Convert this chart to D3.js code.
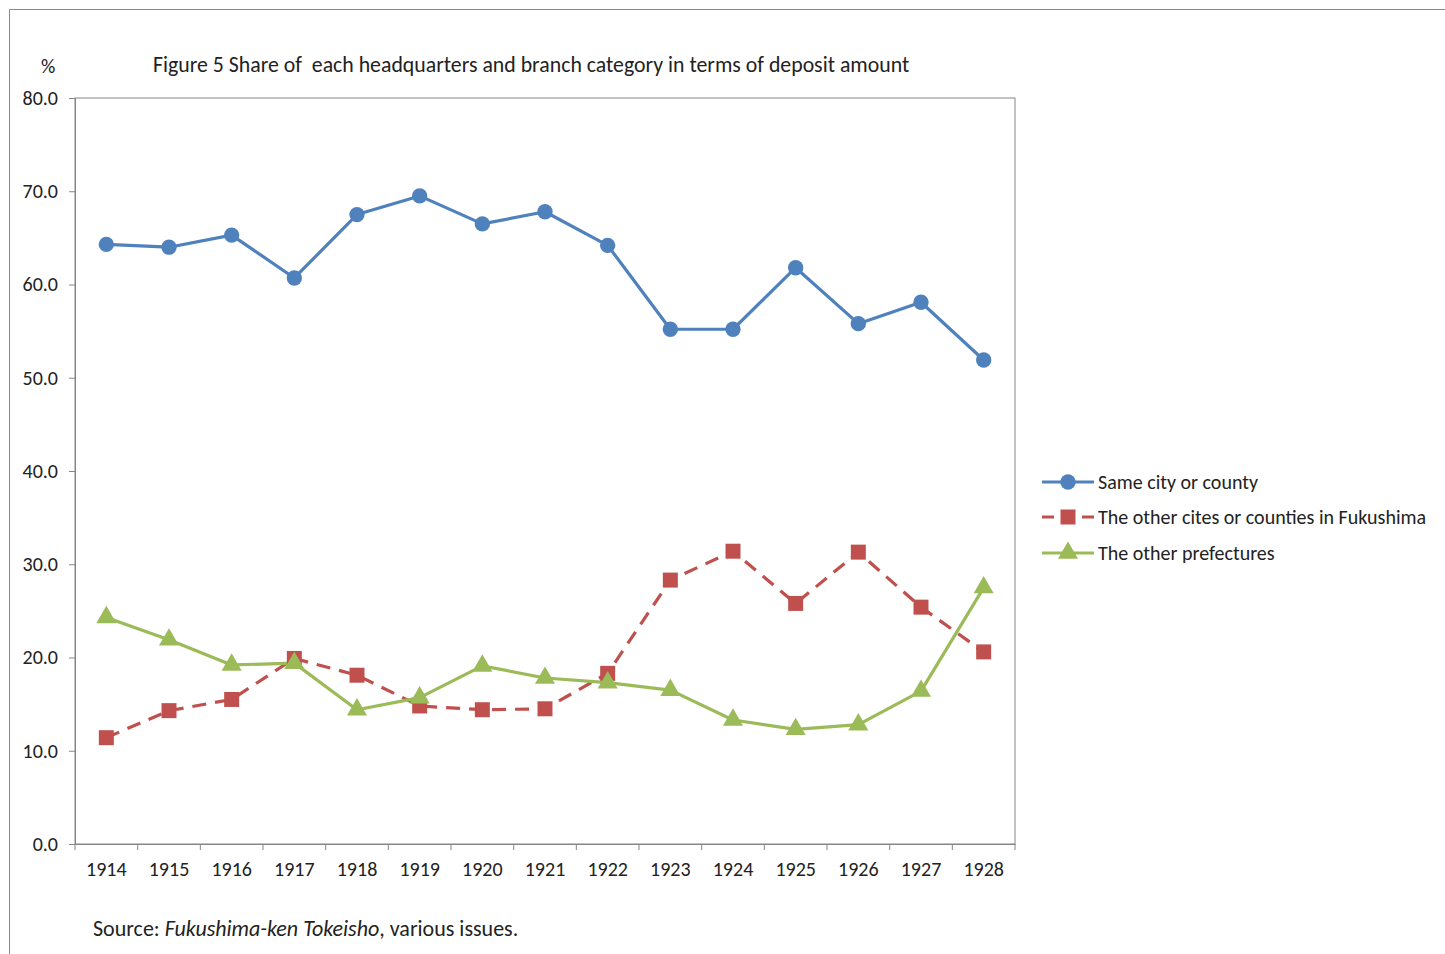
<!DOCTYPE html>
<html>
<head>
<meta charset="utf-8">
<script src="https://cdn.jsdelivr.net/npm/d3@7"></script>
<style>
  body { margin: 0; background: #fff; }
  svg text { font-family: Calibri, Carlito, "Open Sans", sans-serif; fill: #222; }
</style>
</head>
<body>
<svg id="chart" width="1445" height="954"></svg>
<script>
const years = ["1914","1915","1916","1917","1918","1919","1920","1921","1922","1923","1924","1925","1926","1927","1928"];
const sameCity = [64.3, 64.0, 65.3, 60.7, 67.5, 69.5, 66.5, 67.8, 64.2, 55.2, 55.2, 61.8, 55.8, 58.1, 51.9];
const otherCities = [11.4, 14.3, 15.5, 19.9, 18.1, 14.8, 14.4, 14.5, 18.3, 28.3, 31.4, 25.8, 31.3, 25.4, 20.6];
const otherPrefs = [24.3, 21.9, 19.2, 19.4, 14.4, 15.7, 19.1, 17.8, 17.3, 16.5, 13.3, 12.3, 12.8, 16.4, 27.5];
const yTicks = [0, 10, 20, 30, 40, 50, 60, 70, 80];

const series = [
  { name: "Same city or county", values: sameCity, color: "#4F81BD", marker: "circle", dash: null },
  { name: "The other cites or counties in Fukushima", values: otherCities, color: "#C0504D", marker: "square", dash: "14,9" },
  { name: "The other prefectures", values: otherPrefs, color: "#9BBB59", marker: "triangle", dash: null }
];

const svg = d3.select("#chart");
const plotL = 75, plotR = 1015, plotT = 98, plotB = 844;

// outer chart frame
svg.append("path")
  .attr("d", "M9.5,954 L9.5,9.5 L1445,9.5")
  .attr("fill", "none")
  .attr("stroke", "#888")
  .attr("stroke-width", 1);

const x = d3.scaleBand().domain(years).range([plotL, plotR]);
const y = d3.scaleLinear().domain([0, 80]).range([plotB, plotT]);

// plot area border
svg.append("rect")
  .attr("x", plotL).attr("y", plotT)
  .attr("width", plotR - plotL).attr("height", plotB - plotT)
  .attr("fill", "none").attr("stroke", "#868686").attr("stroke-width", 1);

const yAxis = svg.append("g")
  .attr("transform", `translate(${plotL},0)`)
  .call(d3.axisLeft(y).tickValues(yTicks).tickSize(6).tickPadding(11).tickFormat(d3.format(".1f")));
yAxis.select(".domain").attr("stroke", "#868686");
yAxis.selectAll(".tick line").attr("stroke", "#868686");
yAxis.selectAll("text").style("font-size", "20px").attr("fill", "#222");

const xAxis = svg.append("g")
  .attr("transform", `translate(0,${plotB})`)
  .call(d3.axisBottom(x).tickSize(0).tickPadding(18));
xAxis.select(".domain").attr("stroke", "#868686");
xAxis.selectAll("text").style("font-size", "20px").attr("fill", "#222");
// category boundary ticks
xAxis.selectAll("line.bound")
  .data(years.concat(["end"]))
  .enter().append("line")
  .attr("class", "bound")
  .attr("x1", (d, i) => plotL + i * x.step())
  .attr("x2", (d, i) => plotL + i * x.step())
  .attr("y1", 0).attr("y2", 6)
  .attr("stroke", "#868686");

const line = d3.line()
  .x((d, i) => x(years[i]) + x.bandwidth() / 2)
  .y(d => y(d));

const sym = {
  circle: d3.symbol().type(d3.symbolCircle).size(185),
  square: d3.symbol().type(d3.symbolSquare).size(225),
  triangle: d3.symbol().type(d3.symbolTriangle).size(175)
};

series.forEach(s => {
  svg.append("path")
    .datum(s.values)
    .attr("d", line)
    .attr("fill", "none")
    .attr("stroke", s.color)
    .attr("stroke-width", 3.2)
    .attr("stroke-dasharray", s.dash)
    .attr("stroke-linejoin", "round");
});
series.forEach(s => {
  svg.selectAll(null)
    .data(s.values)
    .enter().append("path")
    .attr("transform", (d, i) => `translate(${x(years[i]) + x.bandwidth() / 2},${y(d)})`)
    .attr("d", sym[s.marker]())
    .attr("fill", s.color);
});

// legend
const legend = svg.append("g").attr("transform", "translate(1042,482)");
series.forEach((s, i) => {
  const g = legend.append("g").attr("transform", `translate(0,${i === 0 ? 0 : i === 1 ? 35 : 71})`);
  g.append("line")
    .attr("x1", 0).attr("x2", 52).attr("y1", 0).attr("y2", 0)
    .attr("stroke", s.color).attr("stroke-width", 3.2)
    .attr("stroke-dasharray", s.dash ? "12,8" : null);
  g.append("path")
    .attr("transform", "translate(26,0)")
    .attr("d", sym[s.marker]())
    .attr("fill", s.color);
  g.append("text")
    .attr("x", 56).attr("y", 7)
    .style("font-size", "20px")
    .text(s.name);
});

// titles
svg.append("text")
  .attr("x", 153).attr("y", 72)
  .style("font-size", "21.8px")
  .style("white-space", "pre")
  .text("Figure 5 Share of  each headquarters and branch category in terms of deposit amount");

svg.append("text")
  .attr("x", 41).attr("y", 73)
  .style("font-size", "20px")
  .text("%");

const src = svg.append("text")
  .attr("x", 93).attr("y", 936)
  .style("font-size", "22px");
src.append("tspan").text("Source: ");
src.append("tspan").style("font-style", "italic").text("Fukushima-ken Tokeisho");
src.append("tspan").text(", various issues.");
</script>
</body>
</html>
